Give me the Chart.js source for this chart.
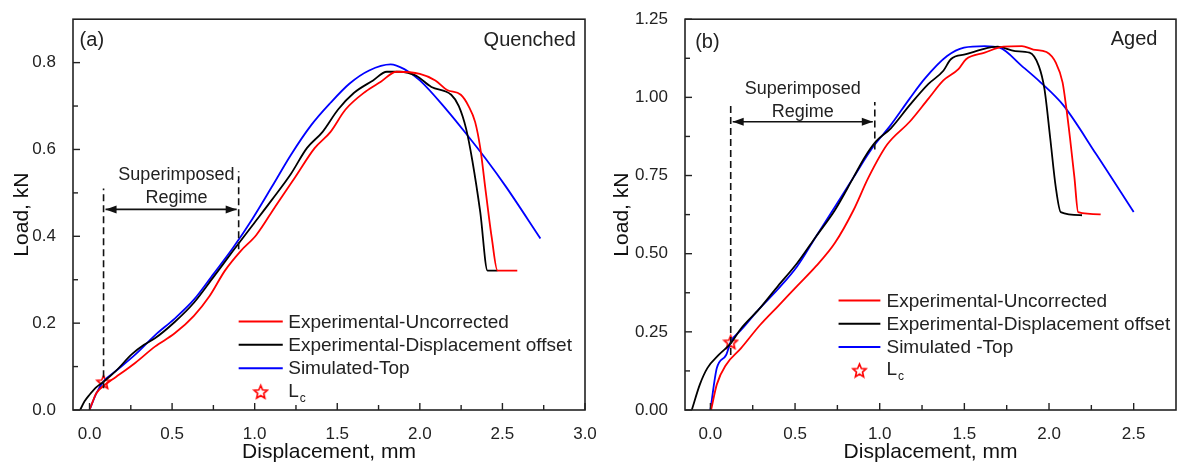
<!DOCTYPE html>
<html>
<head>
<meta charset="utf-8">
<script src="https://cdn.jsdelivr.net/npm/chart.js@4.4.0/dist/chart.umd.min.js"></script>
<style>
  html, body { margin: 0; padding: 0; background: #fff; }
  #wrap { position: relative; width: 1181px; height: 468px; overflow: hidden; }
  #wrap canvas { position: absolute; top: 0; }
</style>
</head>
<body>
<div id="wrap">
  <canvas id="quenched" width="610" height="468" style="left:0"></canvas>
  <canvas id="aged" width="591" height="468" style="left:590px"></canvas>
</div>
<script>
//////////////////////// Data ////////////////////////
const seriesLabels = ['Experimental-Uncorrected', 'Experimental-Displacement offset', 'Simulated-Top'];
const agedLabels = ['Experimental-Uncorrected', 'Experimental-Displacement offset', 'Simulated -Top'];

// (a) Quenched
const qUncorrX = [0, 0.02, 0.042, 0.09, 0.16, 0.278, 0.396, 0.514, 0.632, 0.726, 0.82, 0.915, 1.01, 1.127, 1.245, 1.363, 1.458, 1.55, 1.67, 1.764, 1.858, 2.0, 2.094, 2.165, 2.248, 2.295, 2.335, 2.366, 2.4, 2.436, 2.47, 2.59];
const qUncorrY = [0, 0.02, 0.039, 0.057, 0.076, 0.109, 0.146, 0.176, 0.217, 0.262, 0.321, 0.366, 0.403, 0.47, 0.536, 0.603, 0.64, 0.692, 0.733, 0.756, 0.779, 0.774, 0.759, 0.737, 0.726, 0.70, 0.663, 0.603, 0.5, 0.395, 0.321, 0.321];
const qOffsetX = [-0.057, -0.03, 0.0, 0.04, 0.085, 0.16, 0.255, 0.33, 0.396, 0.514, 0.632, 0.75, 0.868, 0.986, 1.104, 1.22, 1.316, 1.41, 1.505, 1.6, 1.717, 1.8, 1.88, 1.976, 2.07, 2.19, 2.236, 2.28, 2.318, 2.366, 2.41, 2.47];
const qOffsetY = [0, 0.02, 0.035, 0.052, 0.065, 0.09, 0.128, 0.15, 0.165, 0.202, 0.247, 0.306, 0.366, 0.425, 0.484, 0.544, 0.603, 0.64, 0.692, 0.73, 0.759, 0.779, 0.779, 0.77, 0.744, 0.726, 0.70, 0.648, 0.574, 0.455, 0.321, 0.321];
const qSimX = [0, 0.042, 0.09, 0.16, 0.278, 0.396, 0.514, 0.632, 0.75, 0.868, 0.986, 1.104, 1.22, 1.34, 1.458, 1.575, 1.693, 1.823, 1.906, 2.0, 2.165, 2.283, 2.4, 2.52, 2.73];
const qSimY = [0, 0.039, 0.068, 0.09, 0.128, 0.172, 0.21, 0.254, 0.313, 0.373, 0.44, 0.514, 0.588, 0.655, 0.707, 0.752, 0.782, 0.796, 0.785, 0.759, 0.69, 0.635, 0.578, 0.515, 0.395];
const qLcX = [0.085];
const qLcY = [0.065];

// (b) Aged
const aUncorrX = [0.004, 0.038, 0.093, 0.18, 0.292, 0.403, 0.513, 0.624, 0.735, 0.845, 0.934, 1.044, 1.177, 1.288, 1.376, 1.465, 1.51, 1.62, 1.73, 1.84, 1.907, 1.985, 2.04, 2.08, 2.1, 2.124, 2.15, 2.172, 2.305];
const aUncorrY = [0, 0.082, 0.145, 0.197, 0.271, 0.334, 0.397, 0.46, 0.534, 0.639, 0.744, 0.849, 0.922, 0.996, 1.054, 1.09, 1.122, 1.143, 1.162, 1.164, 1.153, 1.145, 1.111, 1.048, 0.975, 0.87, 0.744, 0.633, 0.626];
const aOffsetX = [-0.11, -0.062, -0.018, 0.049, 0.12, 0.18, 0.29, 0.40, 0.513, 0.624, 0.735, 0.845, 0.91, 0.978, 1.066, 1.177, 1.288, 1.376, 1.42, 1.51, 1.6, 1.697, 1.8, 1.885, 1.94, 1.973, 2.007, 2.04, 2.069, 2.195];
const aOffsetY = [0, 0.082, 0.134, 0.176, 0.213, 0.26, 0.324, 0.397, 0.47, 0.555, 0.639, 0.744, 0.807, 0.859, 0.901, 0.975, 1.043, 1.085, 1.122, 1.138, 1.153, 1.162, 1.148, 1.143, 1.1, 1.027, 0.87, 0.712, 0.633, 0.623];
const aSimX = [0, 0.038, 0.093, 0.12, 0.18, 0.29, 0.40, 0.513, 0.624, 0.735, 0.845, 0.956, 1.066, 1.177, 1.265, 1.398, 1.498, 1.62, 1.708, 1.84, 1.95, 2.084, 2.28, 2.5];
const aSimY = [0, 0.134, 0.176, 0.218, 0.255, 0.324, 0.387, 0.46, 0.555, 0.649, 0.744, 0.838, 0.912, 0.996, 1.059, 1.132, 1.159, 1.164, 1.159, 1.1, 1.048, 0.975, 0.817, 0.633];
const aLcX = [0.12];
const aLcY = [0.218];

// tick values
const qTicksX = [0, 0.25, 0.5, 0.75, 1, 1.25, 1.5, 1.75, 2, 2.25, 2.5, 2.75, 3];
const qMajorX = [0, 0.5, 1, 1.5, 2, 2.5, 3];
const qTicksY = [0, 0.1, 0.2, 0.3, 0.4, 0.5, 0.6, 0.7, 0.8];
const qMajorY = [0, 0.2, 0.4, 0.6, 0.8];
const aTicksX = [0, 0.25, 0.5, 0.75, 1, 1.25, 1.5, 1.75, 2, 2.25, 2.5];
const aMajorX = [0, 0.5, 1, 1.5, 2, 2.5];
const aTicksY = [0, 0.125, 0.25, 0.375, 0.5, 0.625, 0.75, 0.875, 1, 1.125, 1.25];
const aMajorY = [0, 0.25, 0.5, 0.75, 1, 1.25];

const seriesColors = ['#ff0000', '#000000', '#0000ff'];
const FONT = "'Liberation Sans', Arial, Helvetica, sans-serif";
const INK = '#222';

//////////////////////// Helpers ////////////////////////
function pts(xs, ys) {
    return xs.map((x, i) => ({ x: x, y: ys[i] }));
}

function starPath(g, cx, cy, rOut) {
    const rIn = rOut * 0.45;
    g.beginPath();
    for (let i = 0; i < 10; i++) {
        const r = i % 2 === 0 ? rOut : rIn;
        const a = -Math.PI / 2 + i * Math.PI / 5;
        const px = cx + r * Math.cos(a), py = cy + r * Math.sin(a);
        if (i === 0) g.moveTo(px, py); else g.lineTo(px, py);
    }
    g.closePath();
}

function makeStar(size) {
    const c = document.createElement('canvas');
    c.width = c.height = size;
    const g = c.getContext('2d');
    g.strokeStyle = '#ff0000';
    g.lineWidth = 1.6;
    starPath(g, size / 2, size / 2 + 0.8, size / 2 - 1.5);
    g.stroke();
    return c;
}
const starImg = makeStar(17);

// frame, inward ticks, annotations and legend
function makeDecor(cfg) {
    return {
        id: 'decor',
        afterDatasetsDraw(chart) {
            const ctx = chart.ctx;
            const a = chart.chartArea;
            const xs = chart.scales.x, ys = chart.scales.y;
            const X = v => xs.getPixelForValue(v);
            const Y = v => ys.getPixelForValue(v);
            ctx.save();

            // dashed markers
            ctx.strokeStyle = '#111';
            ctx.lineWidth = 1.6;
            ctx.setLineDash([7, 4]);
            cfg.dashes.forEach(d => {
                ctx.beginPath();
                ctx.moveTo(X(d.x), Y(d.y0));
                ctx.lineTo(X(d.x), Y(d.y1));
                ctx.stroke();
            });
            ctx.setLineDash([]);

            // double arrow
            const ar = cfg.arrow;
            const ax0 = X(ar.x0) + 2, ax1 = X(ar.x1) - 2, ay = Y(ar.y);
            ctx.beginPath();
            ctx.moveTo(ax0, ay); ctx.lineTo(ax1, ay);
            ctx.stroke();
            ctx.fillStyle = '#111';
            [[ax0, 1], [ax1, -1]].forEach(([px, dir]) => {
                ctx.beginPath();
                ctx.moveTo(px, ay);
                ctx.lineTo(px + dir * 11, ay - 4);
                ctx.lineTo(px + dir * 11, ay + 4);
                ctx.closePath();
                ctx.fill();
            });

            // texts
            ctx.fillStyle = INK;
            ctx.textBaseline = 'middle';
            cfg.texts.forEach(t => {
                ctx.font = t.size + 'px ' + FONT;
                ctx.textAlign = t.align;
                ctx.fillText(t.text, X(t.x), Y(t.y));
            });

            // legend
            const lg = cfg.legend;
            const lx0 = X(lg.x0), lx1 = X(lg.x1), tx = X(lg.tx);
            let ly = Y(lg.y);
            ctx.textAlign = 'left';
            chart.data.datasets.forEach(ds => {
                if (ds.isStar) {
                    ctx.drawImage(starImg, (lx0 + lx1) / 2 - starImg.width / 2, ly - starImg.height / 2);
                    ctx.fillStyle = INK;
                    ctx.font = '19px ' + FONT;
                    ctx.fillText('L', tx, ly);
                    const w = ctx.measureText('L').width;
                    ctx.font = '12px ' + FONT;
                    ctx.fillText('c', tx + w + 1, ly + 7);
                } else {
                    ctx.strokeStyle = ds.borderColor;
                    ctx.lineWidth = 2;
                    ctx.beginPath();
                    ctx.moveTo(lx0, ly); ctx.lineTo(lx1, ly);
                    ctx.stroke();
                    ctx.fillStyle = INK;
                    ctx.font = '19px ' + FONT;
                    ctx.fillText(ds.label, tx, ly + 1);
                }
                ly += lg.step;
            });

            // frame
            ctx.strokeStyle = '#222';
            ctx.lineWidth = 1.6;
            ctx.strokeRect(a.left, a.top, a.right - a.left, a.bottom - a.top);

            // inward ticks on bottom and left
            ctx.lineWidth = 1.4;
            xs.ticks.forEach(t => {
                const len = cfg.majorX.includes(t.value) ? 7 : 5;
                const px = X(t.value);
                ctx.beginPath();
                ctx.moveTo(px, a.bottom); ctx.lineTo(px, a.bottom - len);
                ctx.stroke();
            });
            ys.ticks.forEach(t => {
                const len = cfg.majorY.includes(t.value) ? 7 : 5;
                const py = Y(t.value);
                ctx.beginPath();
                ctx.moveTo(a.left, py); ctx.lineTo(a.left + len, py);
                ctx.stroke();
            });
            ctx.restore();
        }
    };
}

function buildPanel(canvasId, labels, lines, lc, axes, layout, cfg) {
    const datasets = lines.map((l, i) => ({
        label: labels[i],
        data: pts(l[0], l[1]),
        borderColor: seriesColors[i],
        borderWidth: 1.8,
        showLine: true,
        pointRadius: 0,
        cubicInterpolationMode: 'monotone',
        fill: false
    }));
    datasets.push({
        label: 'Lc',
        isStar: true,
        data: pts(lc[0], lc[1]),
        pointStyle: starImg,
        showLine: false
    });

    const config = {
        type: 'scatter',
        data: { datasets: datasets },
        options: {
            responsive: false,
            animation: false,
            layout: { padding: layout.padding },
            plugins: { legend: { display: false }, tooltip: { enabled: false } },
            scales: {
                x: {
                    type: 'linear',
                    min: axes.xMin, max: axes.xMax,
                    afterBuildTicks: s => { s.ticks = axes.xTicks.map(v => ({ value: v })); },
                    afterFit: s => { s.height = 58; },
                    grid: { display: false },
                    border: { display: false },
                    ticks: {
                        autoSkip: false, maxRotation: 0, padding: 6, color: INK,
                        font: { family: FONT, size: 17 },
                        callback: v => axes.xMajor.includes(v) ? v.toFixed(1) : ''
                    },
                    title: {
                        display: true, text: 'Displacement, mm', color: '#111',
                        font: { family: FONT, size: 21 }, padding: { top: 2, bottom: 3 }
                    }
                },
                y: {
                    type: 'linear',
                    min: axes.yMin, max: axes.yMax,
                    afterBuildTicks: s => { s.ticks = axes.yTicks.map(v => ({ value: v })); },
                    afterFit: s => { s.width = layout.yWidth; },
                    grid: { display: false },
                    border: { display: false },
                    ticks: {
                        autoSkip: false, padding: 9, color: INK,
                        font: { family: FONT, size: 17 },
                        callback: v => axes.yMajor.includes(v) ? v.toFixed(axes.yDigits) : ''
                    },
                    title: {
                        display: true, text: 'Load, kN', color: '#111',
                        font: { family: FONT, size: 21 }, padding: { top: layout.yTitlePad, bottom: 0 }
                    }
                }
            }
        },
        plugins: [makeDecor(cfg)]
    };
    const ctx = document.getElementById(canvasId).getContext('2d');
    return new Chart(ctx, config);
}

//////////////////////// Charts ////////////////////////
buildPanel('quenched', seriesLabels,
    [[qUncorrX, qUncorrY], [qOffsetX, qOffsetY], [qSimX, qSimY]],
    [qLcX, qLcY],
    { xMin: -0.1, xMax: 3.0, yMin: 0, yMax: 0.9, xTicks: qTicksX, xMajor: qMajorX, yTicks: qTicksY, yMajor: qMajorY, yDigits: 1 },
    { padding: { left: 0, right: 25, top: 6, bottom: 0 }, yWidth: 73, yTitlePad: 10 },
    {
        majorX: qMajorX, majorY: qMajorY,
        dashes: [{ x: 0.085, y0: 0.05, y1: 0.51 }, { x: 0.903, y0: 0.37, y1: 0.55 }],
        arrow: { x0: 0.085, x1: 0.903, y: 0.462 },
        texts: [
            { text: 'Superimposed', x: 0.526, y: 0.54, size: 18, align: 'center' },
            { text: 'Regime', x: 0.526, y: 0.488, size: 18, align: 'center' },
            { text: '(a)', x: -0.06, y: 0.852, size: 20, align: 'left' },
            { text: 'Quenched', x: 2.945, y: 0.852, size: 20, align: 'right' }
        ],
        legend: { x0: 0.903, x1: 1.17, tx: 1.203, y: 0.204, step: 23.4 }
    });

buildPanel('aged', agedLabels,
    [[aUncorrX, aUncorrY], [aOffsetX, aOffsetY], [aSimX, aSimY]],
    [aLcX, aLcY],
    { xMin: -0.15, xMax: 2.75, yMin: 0, yMax: 1.25, xTicks: aTicksX, xMajor: aMajorX, yTicks: aTicksY, yMajor: aMajorY, yDigits: 2 },
    { padding: { left: 0, right: 3, top: 15, bottom: 0 }, yWidth: 95, yTitlePad: 20 },
    {
        majorX: aMajorX, majorY: aMajorY,
        dashes: [{ x: 0.12, y0: 0.176, y1: 0.985 }, { x: 0.971, y0: 0.833, y1: 0.985 }],
        arrow: { x0: 0.12, x1: 0.971, y: 0.922 },
        texts: [
            { text: 'Superimposed', x: 0.546, y: 1.027, size: 18, align: 'center' },
            { text: 'Regime', x: 0.546, y: 0.954, size: 18, align: 'center' },
            { text: '(b)', x: -0.09, y: 1.174, size: 20, align: 'left' },
            { text: 'Aged', x: 2.64, y: 1.185, size: 20, align: 'right' }
        ],
        legend: { x0: 0.757, x1: 1.004, tx: 1.04, y: 0.35, step: 23.2 }
    });
</script>
</body>
</html>
